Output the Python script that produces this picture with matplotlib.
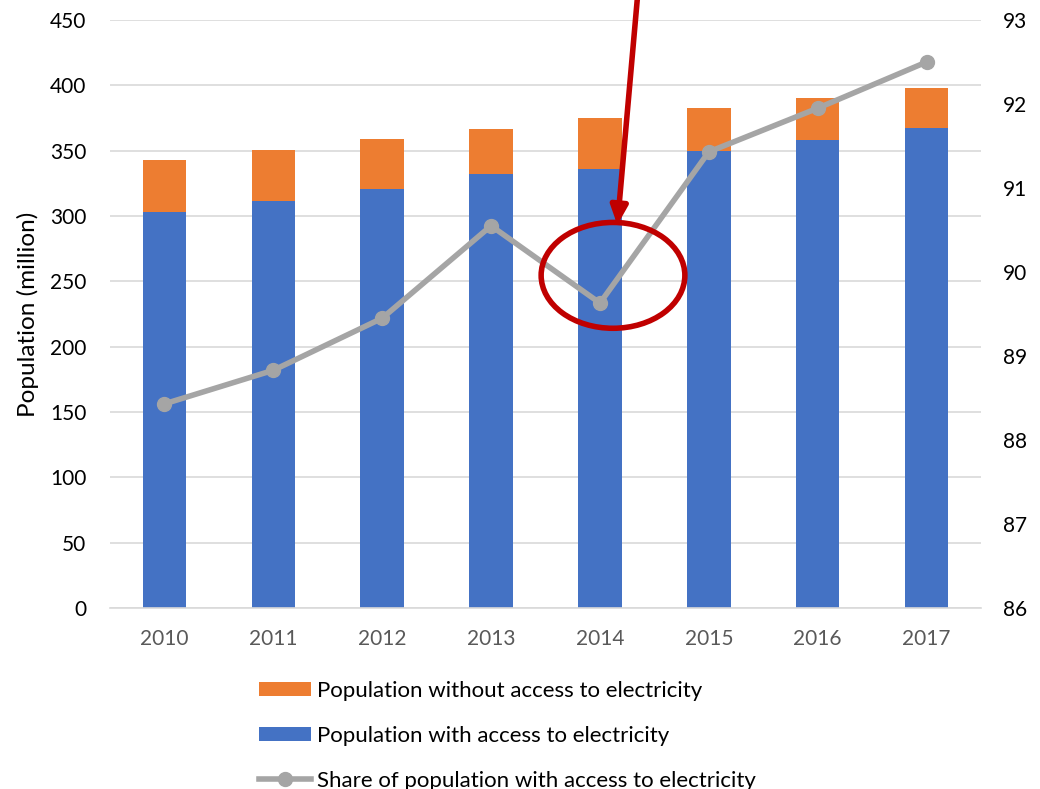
import matplotlib
matplotlib.use("Agg")
import matplotlib.pyplot as plt
from matplotlib.patches import Ellipse, Patch
from matplotlib.lines import Line2D

plt.rcParams['font.family'] = ['Lato', 'DejaVu Sans']

years = ["2010", "2011", "2012", "2013", "2014", "2015", "2016", "2017"]
with_access = [303, 311.5, 320.7, 332, 336, 349.7, 358, 367.3]
without_access = [39.8, 39.0, 38.3, 34.6, 39.0, 32.9, 32.0, 30.7]
share_access = [88.43, 88.83, 89.45, 90.55, 89.63, 91.43, 91.95, 92.5]

BLUE = "#4472C4"
ORANGE = "#ED7D31"
GREY = "#A5A5A5"
DARK_RED = "#C00000"

fig = plt.figure(figsize=(10.4, 7.89), dpi=100)
ax = fig.add_axes([110 / 1040, 1 - 608 / 789, 871 / 1040, 588 / 789])
x = list(range(len(years)))

ax.bar(x, with_access, width=0.4, color=BLUE, zorder=2)
ax.bar(x, without_access, width=0.4, bottom=with_access, color=ORANGE, zorder=2)

ax.set_xlim(-0.5, 7.5)
ax.set_ylim(0, 450)
ax.set_yticks(range(0, 451, 50))
ax.set_xticks(x)
ax.set_xticklabels(years)
ax.grid(axis='y', color="#D9D9D9", linewidth=1.2, zorder=0)
ax.set_axisbelow(True)
for s in ["top", "right", "left"]:
    ax.spines[s].set_visible(False)
ax.spines["bottom"].set_color("#D9D9D9")
ax.spines["bottom"].set_linewidth(1.2)
ax.tick_params(axis='both', length=0)
ax.tick_params(axis='x', labelsize=15, labelcolor="#595959", pad=15)
ax.tick_params(axis='y', labelsize=15, labelcolor="#000000", pad=17)
ax.set_ylabel("Population (million)", fontsize=17.5, labelpad=8)

ax2 = ax.twinx()
ax2.plot(x, share_access, color=GREY, linewidth=4, marker='o', markersize=10, zorder=3)
ax2.set_ylim(86, 93)
ax2.set_yticks(range(86, 94))
for s in ["top", "right", "left", "bottom"]:
    ax2.spines[s].set_visible(False)
ax2.tick_params(axis='y', length=0, labelsize=15, labelcolor="#000000", pad=16)

# Highlight of the 2014 dip (drawn on the share axis so it sits above the line)
ell = Ellipse((4.12, 89.96), 1.32, 1.26, fill=False, edgecolor=DARK_RED, linewidth=4, zorder=5)
ax2.add_patch(ell)
ax2.annotate("", xy=(4.16, 90.56), xytext=(4.35, 93.35), xycoords='data',
             arrowprops=dict(arrowstyle="-|>,head_length=1.1,head_width=0.5",
                             color=DARK_RED, linewidth=4, shrinkA=0, shrinkB=0),
             annotation_clip=False, zorder=6)

handles = [
    Patch(facecolor=ORANGE, label="Population without access to electricity"),
    Patch(facecolor=BLUE, label="Population with access to electricity"),
    Line2D([0], [0], color=GREY, linewidth=4, marker='o', markersize=10,
           label="Share of population with access to electricity"),
]
fig.legend(handles=handles, loc="upper left", bbox_to_anchor=(259 / 1040, 1 - 681 / 789),
           frameon=False, fontsize=16, handlelength=2.35, handleheight=0.6,
           handletextpad=0.27, labelspacing=1.12, borderaxespad=0, borderpad=0)

fig.savefig("out.png", dpi=100)
